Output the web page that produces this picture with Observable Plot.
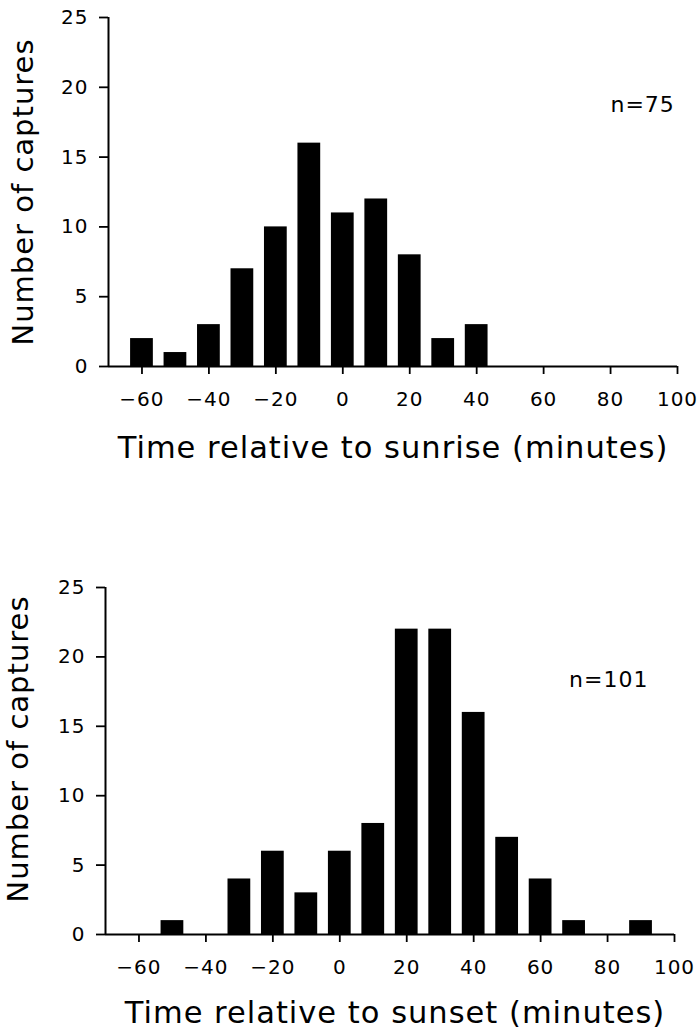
<!DOCTYPE html>
<html>
<head>
<meta charset="utf-8">
<script src="https://cdn.jsdelivr.net/npm/d3@7"></script>
<script src="https://cdn.jsdelivr.net/npm/@observablehq/plot@0.6"></script>
<style>
  html, body { margin: 0; padding: 0; background: #fff; }
  #chart svg { display: block; }
</style>
</head>
<body>
<div id="chart"></div>
<script>
// Bin centres (minutes) and counts
const sunriseBins = [-60, -50, -40, -30, -20, -10, 0, 10, 20, 30, 40];
const sunriseCounts = [2, 1, 3, 7, 10, 16, 11, 12, 8, 2, 3];
const sunsetBins = [-50, -40, -30, -20, -10, 0, 10, 20, 30, 40, 50, 60, 70, 80, 90];
const sunsetCounts = [1, 0, 4, 6, 3, 6, 8, 22, 22, 16, 7, 4, 1, 0, 1];
const xTicks = [-60, -40, -20, 0, 20, 40, 60, 80, 100];
const yTicks = [0, 5, 10, 15, 20, 25];
const xDomain = [-70, 100];
const yDomain = [0, 25];
const yLabel = "Number of captures";
const sunriseLabel = "Time relative to sunrise (minutes)";
const sunsetLabel = "Time relative to sunset (minutes)";
const sunriseN = "n=75";
const sunsetN = "n=101";
const binHalfWidth = 3.4;

const font = "DejaVu Sans";

function panel({bins, counts, xLabel, nText, nPos, height, margins, yLabelDx, yLabelDy, xLabelDx, xLabelDy}) {
  const data = bins.map((t, i) => ({t, n: counts[i]}));
  return Plot.plot({
    width: 698,
    height,
    ...margins,
    style: {fontFamily: font, color: "black", background: "white", letterSpacing: "1px"},
    x: {domain: xDomain, label: null},
    y: {domain: yDomain, label: null},
    marks: [
      Plot.rectY(data, {x1: d => d.t - binHalfWidth, x2: d => d.t + binHalfWidth, y: "n", fill: "black"}),
      Plot.ruleY([0], {stroke: "black", strokeWidth: 2}),
      Plot.ruleX([xDomain[0]], {stroke: "black", strokeWidth: 2}),
      Plot.axisX({ticks: xTicks, tickSize: 8, tickPadding: 17, fontSize: 20, strokeWidth: 1.8, label: null}),
      Plot.axisY({ticks: yTicks, tickSize: 9, tickPadding: 11, fontSize: 20, strokeWidth: 1.8, label: null}),
      Plot.text([xLabel], {frameAnchor: "bottom", dy: xLabelDy, dx: xLabelDx, lineAnchor: "bottom", textAnchor: "middle", fontSize: 30.5}),
      Plot.text([yLabel], {frameAnchor: "left", rotate: -90, dx: yLabelDx, dy: yLabelDy, lineAnchor: "top", textAnchor: "middle", fontSize: 29, letterSpacing: "1.5px"}),
      Plot.text([nText], {x: nPos[0], y: nPos[1], textAnchor: "end", lineAnchor: "bottom", fontSize: 22})
    ]
  });
}

const topPanel = panel({
  bins: sunriseBins, counts: sunriseCounts, xLabel: sunriseLabel, nText: sunriseN,
  nPos: [99.2, 18.2], height: 470,
  margins: {marginLeft: 108, marginRight: 21, marginTop: 17, marginBottom: 104},
  yLabelDx: -96, yLabelDy: 0, xLabelDx: 0, xLabelDy: 91
});
const bottomPanel = panel({
  bins: sunsetBins, counts: sunsetCounts, xLabel: sunsetLabel, nText: sunsetN,
  nPos: [92.2, 17.85], height: 560,
  margins: {marginLeft: 105, marginRight: 24, marginTop: 117, marginBottom: 96},
  yLabelDx: -98, yLabelDy: -12, xLabelDx: 5, xLabelDy: 88
});
document.getElementById("chart").append(topPanel, bottomPanel);
</script>
</body>
</html>
